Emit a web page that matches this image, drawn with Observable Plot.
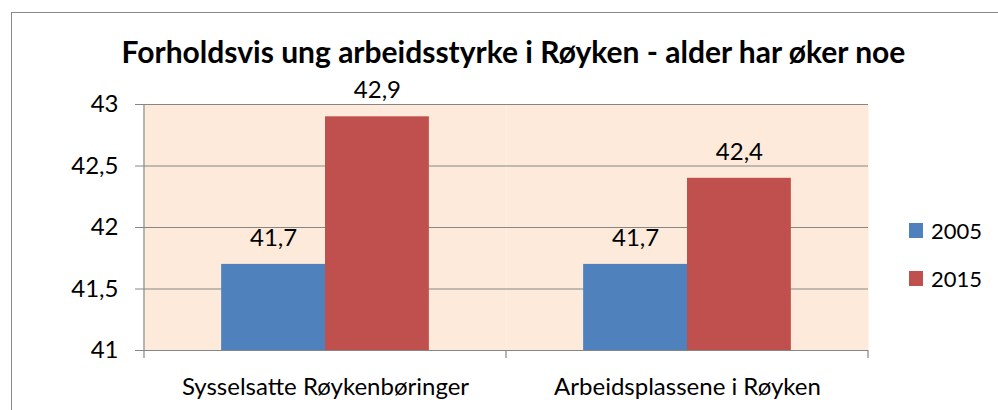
<!DOCTYPE html>
<html>
<head>
<meta charset="utf-8">
<script src="https://cdn.jsdelivr.net/npm/d3@7"></script>
<script src="https://cdn.jsdelivr.net/npm/@observablehq/plot@0.6"></script>
<style>
  html, body { margin: 0; padding: 0; background: #fff; }
  #wrap { position: relative; width: 998px; height: 410px; overflow: hidden; font-family: Lato, sans-serif; }
  #border { position: absolute; left: 11px; top: 12px; width: 1100px; height: 500px; border-left: 1.5px solid #8a8a8a; border-top: 1.5px solid #8a8a8a; box-sizing: border-box; }
  #title { position: absolute; left: 0; width: 1027px; top: 32px; text-align: center; font-weight: bold; font-size: 30px; line-height: 38px; color: #000; white-space: nowrap; }
  #chart { position: absolute; left: 0; top: 70px; }
  #legend { position: absolute; left: 909px; top: 206px; font-size: 22px; color: #000; }
  .li { display: flex; align-items: center; height: 48px; }
  .sw { width: 14px; height: 15px; margin-right: 8px; }
</style>
</head>
<body>
<div id="wrap">
  <div id="border"></div>
  <div id="title">Forholdsvis ung arbeidsstyrke i Røyken - alder har øker noe</div>
  <div id="chart"></div>
  <div id="legend"></div>
</div>
<script>
const categories = ["Sysselsatte Røykenbøringer", "Arbeidsplassene i Røyken"];
const years = ["2005", "2015"];
const values2005 = [41.7, 41.7];
const values2015 = [42.9, 42.4];
const yTicks = [41, 41.5, 42, 42.5, 43];
const colors = ["#4F81BD", "#C0504D"];

const seriesValues = [values2005, values2015];
const rows = [];
categories.forEach((cat, i) => {
  years.forEach((yr, j) => rows.push({cat, year: yr, value: seriesValues[j][i]}));
});
const yMin = yTicks[0], yMax = yTicks[yTicks.length - 1];
const fmt = v => String(v).replace(".", ",");
const gray = "#868686";

const plot = Plot.plot({
  width: 998, height: 340,
  marginTop: 34, marginBottom: 60, marginLeft: 143, marginRight: 130,
  style: {fontFamily: "Lato, sans-serif", fontSize: "24px", color: "#000", background: "transparent", overflow: "visible"},
  fx: {domain: categories, padding: 0, label: null, axis: null},
  x: {domain: years, paddingInner: 0, paddingOuter: 0.7428, axis: null, round: false},
  y: {domain: [yMin, yMax], axis: null},
  color: {domain: years, range: colors},
  marks: [
    Plot.frame({fill: "#FDEADA", stroke: null}),
    Plot.gridY(yTicks, {stroke: gray, strokeOpacity: 1, strokeWidth: 1.2}),
    Plot.barY(rows, {fx: "cat", x: "year", y1: yMin, y2: "value", fill: "year"}),
    Plot.ruleY([yMin], {stroke: gray, strokeWidth: 1.2}),
    Plot.text(rows, {fx: "cat", x: "year", y: "value", text: d => fmt(d.value), dy: -26, fontSize: 24, fill: "#000"}),
    Plot.axisY(yTicks, {tickSize: 9, tickPadding: 17, tickFormat: fmt, stroke: gray, fill: "#000", fontSize: 24, label: null}),
    Plot.axisFx({anchor: "bottom", tickSize: 0, tickPadding: 27, fontSize: 24, label: null, fill: "#000"})
  ]
});
document.getElementById("chart").appendChild(plot);

// category boundary ticks and left axis line, placed through Plot's own scales
const fx = plot.scale("fx"), y = plot.scale("y");
const svg = d3.select(plot);
const edges = categories.map(c => fx.apply(c)).concat([fx.apply(categories[categories.length - 1]) + fx.bandwidth]);
const g = svg.append("g").attr("stroke", gray).attr("stroke-width", 1.2);
edges.forEach((ex, i) => {
  g.append("line").attr("x1", ex).attr("x2", ex)
    .attr("y1", i === 0 ? y.apply(yMax) : y.apply(yMin))
    .attr("y2", y.apply(yMin) + 8);
});

// legend
const legend = d3.select("#legend");
years.forEach((yr, j) => {
  const li = legend.append("div").attr("class", "li");
  li.append("div").attr("class", "sw").style("background", colors[j]);
  li.append("span").text(yr);
});
</script>
</body>
</html>
